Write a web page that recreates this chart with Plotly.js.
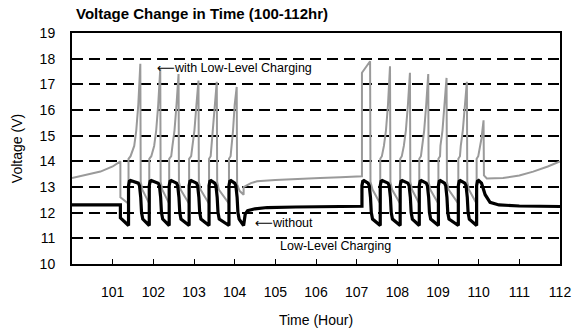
<!DOCTYPE html>
<html>
<head>
<meta charset="utf-8">
<script src="https://cdn.plot.ly/plotly-3.0.1.min.js"></script>
<style>html,body{margin:0;padding:0;background:#fff;}#chart{width:580px;height:334px;}</style>
</head>
<body>
<div id="chart"></div>
<script>
// Tick values / labels
var hourTicks = [101,102,103,104,105,106,107,108,109,110,111,112];
var hourLabels = ['101','102','103','104','105','106','107','108','109','110','111','112'];
var voltTicks = [10,11,12,13,14,15,16,17,18,19];

// Series: "without" (thick black line) — hours and volts
var hoursWithout = [
  100.00,101.19,101.19,101.39,
  101.39,101.41,101.44,101.63,101.66,101.69,101.71,101.74,101.90,
  101.90,101.92,101.95,102.12,102.15,102.18,102.20,102.23,102.39,
  102.39,102.41,102.44,102.57,102.60,102.63,102.65,102.68,102.88,
  102.88,102.90,102.93,103.06,103.09,103.12,103.14,103.17,103.37,
  103.37,103.39,103.42,103.51,103.54,103.57,103.59,103.62,103.86,
  103.86,103.88,103.91,104.00,104.03,104.06,104.08,104.11,104.22,
  104.26,104.32,104.50,104.80,105.50,107.13,
  107.13,107.15,107.18,107.28,107.31,107.34,107.36,107.39,107.58,
  107.58,107.60,107.63,107.77,107.80,107.83,107.85,107.88,108.07,
  108.07,108.09,108.12,108.26,108.29,108.32,108.34,108.37,108.54,
  108.54,108.56,108.59,108.71,108.74,108.77,108.79,108.82,109.01,
  109.01,109.03,109.06,109.16,109.19,109.22,109.24,109.27,109.50,
  109.50,109.52,109.55,109.66,109.69,109.72,109.74,109.77,109.95,
  109.95,109.97,110.00,110.07,110.10,110.16,110.28,110.50,111.00,112.00
];
var voltsWithout = [
  12.30,12.30,11.80,11.50,
  13.05,13.22,13.25,13.15,13.05,12.60,12.00,11.75,11.50,
  13.05,13.22,13.25,13.15,13.05,12.60,12.00,11.75,11.50,
  13.05,13.22,13.25,13.15,13.05,12.60,12.00,11.75,11.50,
  13.05,13.22,13.25,13.15,13.05,12.60,12.00,11.75,11.50,
  13.05,13.22,13.25,13.15,13.05,12.60,12.00,11.75,11.50,
  13.05,13.22,13.25,13.15,13.05,12.60,12.00,11.75,11.50,
  11.95,12.08,12.15,12.20,12.22,12.25,
  13.05,13.22,13.25,13.15,13.05,12.60,12.00,11.75,11.50,
  13.05,13.22,13.25,13.15,13.05,12.60,12.00,11.75,11.50,
  13.05,13.22,13.25,13.15,13.05,12.60,12.00,11.75,11.50,
  13.05,13.22,13.25,13.15,13.05,12.60,12.00,11.75,11.50,
  13.05,13.22,13.25,13.15,13.05,12.60,12.00,11.75,11.50,
  13.05,13.22,13.25,13.15,13.05,12.60,12.00,11.75,11.50,
  13.05,13.22,13.25,13.15,13.00,12.70,12.40,12.30,12.26,12.24
];

// Series: "with Low-Level Charging" (thin grey line)
var hoursWith = [
  100.00,100.40,100.70,101.00,101.19,101.19,101.39,
  101.39,101.44,101.53,101.58,101.63,101.68,101.69,101.73,101.90,
  101.90,101.95,102.02,102.07,102.12,102.17,102.18,102.22,102.39,
  102.39,102.44,102.47,102.52,102.57,102.62,102.63,102.67,102.88,
  102.88,102.93,102.96,103.01,103.06,103.11,103.12,103.16,103.37,
  103.37,103.41,103.43,103.47,103.51,103.56,103.57,103.61,103.86,
  103.86,103.90,103.93,103.96,104.00,104.05,104.06,104.12,104.22,
  104.22,104.40,104.55,105.00,105.60,106.10,106.60,107.13,
  107.13,107.33,107.34,107.39,107.58,
  107.58,107.62,107.67,107.72,107.77,107.82,107.83,107.87,108.07,
  108.07,108.11,108.16,108.21,108.26,108.31,108.32,108.36,108.54,
  108.54,108.58,108.61,108.66,108.71,108.76,108.77,108.81,109.01,
  109.01,109.05,109.06,109.11,109.16,109.21,109.22,109.26,109.50,
  109.50,109.54,109.56,109.61,109.66,109.71,109.72,109.76,109.95,
  109.95,109.99,110.02,110.07,110.12,110.13,110.20,110.60,111.00,111.34,111.70,112.00
];
var voltsWith = [
  13.35,13.50,13.60,13.80,14.00,12.60,12.35,
  14.10,14.20,14.60,15.20,16.20,17.80,13.20,12.90,12.35,
  14.10,14.20,14.60,15.20,16.20,17.60,13.20,12.90,12.35,
  14.10,14.20,14.60,15.20,16.20,17.40,13.20,12.90,12.35,
  14.10,14.20,14.60,15.20,16.20,17.15,13.20,12.90,12.35,
  14.10,14.20,14.60,15.20,16.20,17.10,13.20,12.90,12.35,
  14.10,14.20,14.60,15.20,16.20,16.90,13.10,12.85,12.70,
  13.00,13.15,13.22,13.27,13.30,13.35,13.38,13.42,
  17.45,17.90,13.20,12.90,12.35,
  14.10,14.20,14.60,15.20,16.20,17.70,13.20,12.90,12.35,
  14.10,14.20,14.60,15.20,16.20,17.45,13.20,12.90,12.35,
  14.10,14.20,14.60,15.20,16.20,17.40,13.20,12.90,12.35,
  14.10,14.20,14.60,15.20,16.20,17.25,13.20,12.90,12.35,
  14.10,14.20,14.60,15.20,16.20,17.10,13.20,12.90,12.35,
  14.10,14.20,14.50,14.90,15.60,13.45,13.33,13.35,13.45,13.60,13.80,14.00
];

var FONT = 'Liberation Sans, Arial, sans-serif';
var ARROW = '<span style="font-family:DejaVu Sans">⟵</span>';

var traces = [
  {x: hoursWith, y: voltsWith, type: 'scatter', mode: 'lines', name: 'with Low-Level Charging',
   line: {color: '#9a9a9a', width: 2}, hoverinfo: 'skip'},
  {x: hoursWithout, y: voltsWithout, type: 'scatter', mode: 'lines', name: 'without',
   line: {color: '#000000', width: 3.2}, hoverinfo: 'skip'}
];

var layout = {
  width: 580, height: 334,
  margin: {l: 72, r: 20, t: 33, b: 70},
  paper_bgcolor: '#ffffff', plot_bgcolor: '#ffffff',
  showlegend: false,
  font: {family: FONT, color: '#000', size: 14},
  title: {
    text: 'Voltage Change in Time (100-112hr)',
    font: {family: FONT, size: 15, color: '#000', weight: 'bold'},
    xref: 'container', yref: 'container',
    x: 76/580, xanchor: 'left', y: 1 - 14/334, yanchor: 'middle'
  },
  xaxis: {
    range: [100, 112],
    tickvals: hourTicks, ticktext: hourLabels,
    ticks: 'inside', ticklen: 5, tickwidth: 1, tickcolor: '#000',
    showline: true, linecolor: '#000', linewidth: 2, mirror: true,
    showgrid: false, zeroline: false,
    tickfont: {family: FONT, size: 14, color: '#000'},
    ticklabelstandoff: 14,
    title: {text: 'Time (Hour)', font: {family: FONT, size: 14, color: '#000'}, standoff: 16}
  },
  yaxis: {
    range: [10, 19],
    tickvals: voltTicks,
    ticks: '',
    showline: true, linecolor: '#000', linewidth: 2, mirror: true,
    showgrid: true, gridcolor: '#000', gridwidth: 2, griddash: '11px,6px',
    zeroline: false,
    tickfont: {family: FONT, size: 14, color: '#000'},
    ticklabelstandoff: 12,
    title: {text: 'Voltage (V)', font: {family: FONT, size: 14, color: '#000'}, standoff: 14}
  },
  annotations: [
    {x: 102.05, y: 17.65, xref: 'x', yref: 'y', text: ARROW + 'with Low-Level Charging', showarrow: false,
     xanchor: 'left', yanchor: 'middle', font: {family: FONT, size: 12.5, color: '#000'}},
    {x: 104.45, y: 11.6, xref: 'x', yref: 'y', text: ARROW + 'without', showarrow: false,
     xanchor: 'left', yanchor: 'middle', font: {family: FONT, size: 12.5, color: '#000'}},
    {x: 105.07, y: 10.72, xref: 'x', yref: 'y', text: 'Low-Level Charging', showarrow: false,
     xanchor: 'left', yanchor: 'middle', font: {family: FONT, size: 12.5, color: '#000'}}
  ]
};

Plotly.newPlot('chart', traces, layout, {staticPlot: true, displayModeBar: false});
</script>
</body>
</html>
